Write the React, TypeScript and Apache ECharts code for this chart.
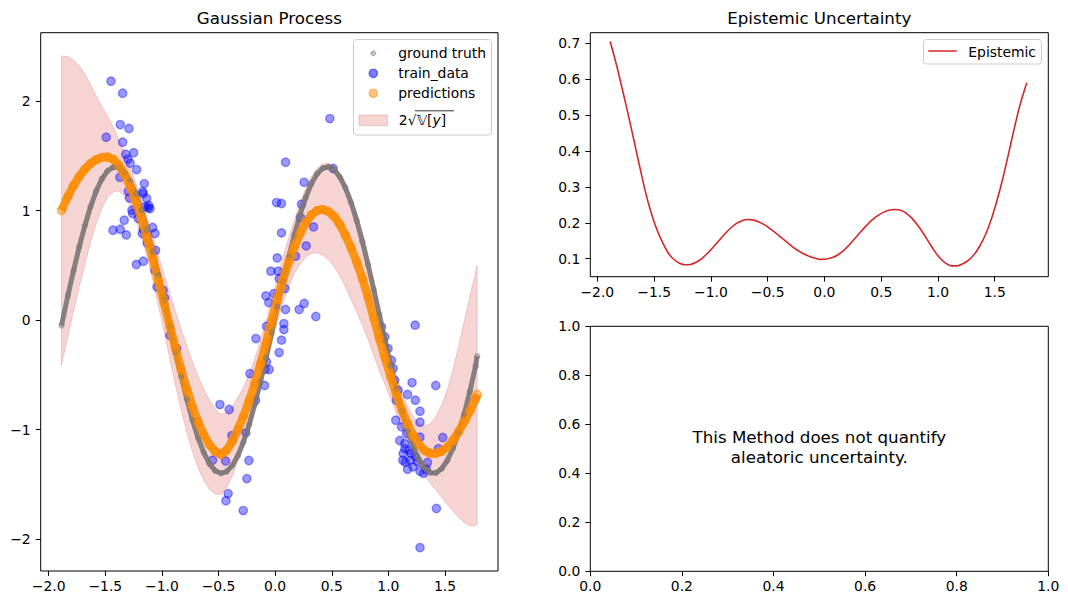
import React, { useEffect, useRef } from "react";
import * as echarts from "echarts";

const FONT = "DejaVu Sans";

// shared x grid of the model evaluation
const xs = [-1.887, -1.83, -1.78, -1.73, -1.68, -1.63, -1.58, -1.53, -1.48, -1.43, -1.38, -1.33, -1.28, -1.23, -1.18, -1.13, -1.08, -1.03, -0.98, -0.93, -0.88, -0.83, -0.78, -0.73, -0.68, -0.63, -0.58, -0.53, -0.48, -0.43, -0.38, -0.33, -0.28, -0.23, -0.18, -0.13, -0.08, -0.03, 0.02, 0.07, 0.12, 0.17, 0.22, 0.27, 0.32, 0.37, 0.42, 0.47, 0.52, 0.57, 0.62, 0.67, 0.72, 0.77, 0.82, 0.87, 0.92, 0.97, 1.02, 1.07, 1.12, 1.17, 1.22, 1.27, 1.32, 1.37, 1.42, 1.47, 1.52, 1.57, 1.62, 1.67, 1.72, 1.77, 1.784];

const groundTruth = [-0.05, 0.226, 0.453, 0.668, 0.864, 1.036, 1.179, 1.288, 1.362, 1.397, 1.393, 1.35, 1.269, 1.152, 1.002, 0.824, 0.625, 0.409, 0.177, -0.057, -0.29, -0.515, -0.725, -0.915, -1.079, -1.212, -1.313, -1.376, -1.4, -1.385, -1.33, -1.24, -1.114, -0.956, -0.772, -0.566, -0.344, -0.113, 0.122, 0.353, 0.575, 0.78, 0.963, 1.119, 1.244, 1.334, 1.386, 1.399, 1.374, 1.309, 1.208, 1.073, 0.907, 0.716, 0.505, 0.281, 0.047, -0.187, -0.418, -0.633, -0.832, -1.009, -1.157, -1.273, -1.353, -1.394, -1.396, -1.358, -1.283, -1.173, -1.03, -0.857, -0.65, -0.42, -0.33];

const predictions = [1.0, 1.131, 1.228, 1.311, 1.378, 1.429, 1.465, 1.485, 1.489, 1.467, 1.414, 1.331, 1.22, 1.084, 0.927, 0.75, 0.559, 0.357, 0.151, -0.056, -0.259, -0.453, -0.632, -0.793, -0.934, -1.049, -1.139, -1.199, -1.228, -1.19, -1.11, -1.0, -0.88, -0.74, -0.58, -0.4, -0.21, -0.01, 0.19, 0.37, 0.53, 0.67, 0.79, 0.89, 0.96, 1.0, 1.01, 0.992, 0.947, 0.874, 0.775, 0.66, 0.53, 0.38, 0.21, 0.02, -0.168, -0.345, -0.518, -0.678, -0.824, -0.951, -1.055, -1.137, -1.192, -1.218, -1.217, -1.198, -1.161, -1.1, -1.02, -0.93, -0.83, -0.72, -0.68];

const epistemic = [0.705, 0.638, 0.572, 0.504, 0.433, 0.361, 0.291, 0.232, 0.185, 0.148, 0.118, 0.099, 0.088, 0.083, 0.084, 0.09, 0.1, 0.115, 0.132, 0.15, 0.168, 0.184, 0.197, 0.205, 0.209, 0.208, 0.203, 0.195, 0.184, 0.172, 0.159, 0.146, 0.133, 0.122, 0.113, 0.106, 0.101, 0.098, 0.099, 0.103, 0.111, 0.123, 0.139, 0.157, 0.175, 0.192, 0.208, 0.22, 0.229, 0.235, 0.237, 0.235, 0.227, 0.213, 0.194, 0.171, 0.146, 0.121, 0.101, 0.087, 0.08, 0.08, 0.086, 0.096, 0.112, 0.136, 0.168, 0.21, 0.262, 0.322, 0.39, 0.46, 0.525, 0.578, 0.59];

const trainX = [-1.45, -1.347, -1.368, -1.291, -1.492, -1.347, -1.32, -1.25, -1.28, -1.223, -1.3, -1.371, -1.156, -1.297, -1.17, -1.288, -1.135, -1.117, -1.15, -1.265, -1.333, -1.209, -1.121, -1.432, -1.368, -1.315, -1.082, -1.062, -1.164, -1.13, -1.226, -1.165, -1.062, -1.044, -0.989, -0.976, -1.165, -1.106, -1.056, -0.929, -0.87, -1.259, -1.174, 0.092, 0.256, 0.012, 0.056, 0.233, 0.483, 0.512, 0.056, 0.339, 0.224, 0.274, 0.018, -0.038, 0.026, 0.035, -0.082, -0.056, 0.086, 0.256, 0.212, 0.092, 0.359, 0.077, 0.077, 0.056, 0.035, -0.17, -0.223, -0.094, -0.091, -0.053, -0.076, -0.173, -0.488, -0.406, -0.382, -0.259, -0.553, -0.438, -0.232, -0.25, -0.415, -0.435, -0.282, 0.18, -0.011, -0.076, 1.236, 1.209, 1.418, 1.169, 1.238, 1.279, 1.279, 1.065, 1.116, 1.16, 1.279, 1.48, 1.442, 1.13, 1.145, 1.183, 1.127, 1.192, 1.169, 1.257, 1.218, 1.279, 1.335, 1.345, 1.424, 1.279, 0.939, 0.968, 0.997, 1.027, 1.042, 1.056, 1.086, 1.071, 1.145, 1.1, 1.2, 1.15, 1.24, 1.31];
const trainY = [2.181, 2.071, 1.785, 1.749, 1.669, 1.624, 1.514, 1.528, 1.432, 1.374, 1.47, 1.304, 1.246, 1.176, 1.173, 1.115, 1.11, 1.048, 1.033, 1.003, 0.911, 0.927, 1.024, 0.82, 0.829, 0.777, 0.845, 0.79, 0.829, 0.704, 0.507, 0.537, 0.455, 0.302, 0.272, 0.202, 1.155, 1.018, 0.637, -0.139, -0.26, 0.973, 0.79, 1.441, 1.258, 1.073, 1.064, 1.058, 1.84, 1.384, 0.796, 0.85, 0.936, 0.677, 0.567, 0.446, 0.446, 0.379, 0.22, 0.16, 0.288, 0.151, 0.096, 0.096, 0.032, -0.032, -0.087, -0.184, -0.297, -0.169, -0.489, -0.598, -0.452, -0.452, -0.383, -0.732, -0.772, -0.817, -1.055, -1.031, -1.28, -1.287, -1.283, -1.448, -1.585, -1.65, -1.74, 0.583, 0.242, -0.057, -0.047, -0.571, -0.598, -0.68, -0.732, -0.833, -0.933, -0.915, -0.976, -1.037, -1.07, -1.073, -1.174, -1.219, -1.174, -1.189, -1.28, -1.28, -1.363, -1.296, -1.341, -1.381, -1.363, -1.301, -1.721, -2.078, -0.063, -0.154, -0.26, -0.367, -0.443, -0.55, -0.641, -0.732, -1.128, -1.1, -1.22, -1.3, -1.25, -1.4];

const xTicks = [-2.0, -1.5, -1.0, -0.5, 0.0, 0.5, 1.0, 1.5];
const gpYTicks = [-2, -1, 0, 1, 2];
const epiYTicks = [0.1, 0.2, 0.3, 0.4, 0.5, 0.6, 0.7];
const unitTicks = [0, 0.2, 0.4, 0.6, 0.8, 1.0];

const titles = ["Gaussian Process", "Epistemic Uncertainty"];
const legendLabels = ["ground truth", "train_data", "predictions"];
const epiLabel = "Epistemic";
const aleatoricNote = "This Method does not quantify\naleatoric uncertainty.";

const minus = (s: string) => s.replace("-", "\u2212");
const fmt1 = (v: number) => minus((Math.abs(v) < 1e-9 ? 0 : v).toFixed(1));
const fmt0 = (v: number) => minus((Math.abs(v) < 1e-9 ? 0 : v).toFixed(0));

function axis(gridIndex: number, min: number, max: number, ticks: number[], fmt: (v: number) => string, isX: boolean) {
  return {
    type: "value",
    gridIndex,
    min,
    max,
    axisLine: { show: false, onZero: false },
    splitLine: { show: false },
    axisTick: {
      show: true,
      inside: false,
      length: 4.9,
      lineStyle: { color: "#000", width: 1 },
      customValues: ticks,
    },
    axisLabel: {
      show: true,
      customValues: ticks,
      formatter: (v: number) => fmt(v),
      color: "#000",
      fontSize: 13.9,
      fontFamily: FONT,
      margin: isX ? 8 : 10,
    },
  };
}

const txt = (text: string, x: number, y: number, size: number, align: string, extra: any = {}) => ({
  type: "text", x, y, z: 21,
  style: { text, fontSize: size, fontFamily: FONT, fill: "#000", align, verticalAlign: "middle", textAlign: align, textVerticalAlign: "middle", ...extra },
});

export default function App() {
  const ref = useRef<HTMLDivElement>(null);
  useEffect(() => {
    if (!ref.current) return;
    const chart = echarts.init(ref.current, null, { renderer: "svg" });
    const bandUpper = predictions.map((p, i) => p + 2 * epistemic[i]);
    const bandLower = predictions.map((p, i) => p - 2 * epistemic[i]);
    const bandRows = xs.map((x, i) => [x, bandLower[i], bandUpper[i]]);

    const gridStyle = { show: true, borderColor: "#000", borderWidth: 1, backgroundColor: "transparent" };

    const option: any = {
      animation: false,
      backgroundColor: "#fff",
      grid: [
        { left: 40.7, top: 32.7, width: 457.3, height: 538.3, ...gridStyle },
        { left: 590.3, top: 32.7, width: 458, height: 244, ...gridStyle },
        { left: 590.3, top: 326.3, width: 458, height: 245, ...gridStyle },
      ],
      xAxis: [
        axis(0, -2.0706, 1.968, xTicks, fmt1, true),
        axis(1, -2.062, 1.972, xTicks, fmt1, true),
        axis(2, 0, 1, unitTicks, fmt1, true),
      ],
      yAxis: [
        axis(0, -2.292, 2.624, gpYTicks, fmt0, false),
        axis(1, 0.0498, 0.7295, epiYTicks, fmt1, false),
        axis(2, 0, 1, unitTicks, fmt1, false),
      ],
      series: [
        {
          name: legendLabels[0],
          type: "line",
          xAxisIndex: 0,
          yAxisIndex: 0,
          data: xs.map((x, i) => [x, groundTruth[i]]),
          symbol: "circle",
          symbolSize: 5.5,
          showSymbol: true,
          showAllSymbol: true,
          lineStyle: { color: "rgba(122,118,118,0.9)", width: 5 },
          itemStyle: { color: "rgba(128,124,124,0.5)", borderColor: "rgba(115,110,110,0.5)", borderWidth: 0.8 },
          silent: true,
        },
        {
          name: legendLabels[1],
          type: "scatter",
          xAxisIndex: 0,
          yAxisIndex: 0,
          data: trainX.map((x, i) => [x, trainY[i]]),
          symbolSize: 8.3,
          itemStyle: { color: "rgba(0,0,255,0.5)", borderColor: "rgba(0,0,255,0.5)", borderWidth: 1.4 },
          silent: true,
        },
        {
          name: legendLabels[2],
          type: "line",
          xAxisIndex: 0,
          yAxisIndex: 0,
          data: xs.map((x, i) => [x, predictions[i]]),
          symbol: "circle",
          symbolSize: 8.3,
          showSymbol: true,
          showAllSymbol: true,
          lineStyle: { color: "rgba(250,140,0,0.88)", width: 8.5 },
          itemStyle: { color: "rgba(255,140,0,0.5)", borderColor: "rgba(255,140,0,0.5)", borderWidth: 1.4 },
          silent: true,
        },
        {
          name: "band",
          type: "custom",
          xAxisIndex: 0,
          yAxisIndex: 0,
          data: bandRows,
          encode: { x: 0, y: [1, 2] },
          silent: true,
          renderItem: (params: any, api: any) => {
            if (params.dataIndex !== 0) return null;
            const pts: number[][] = [];
            for (let i = 0; i < bandRows.length; i++) pts.push(api.coord([bandRows[i][0], bandRows[i][2]]));
            for (let i = bandRows.length - 1; i >= 0; i--) pts.push(api.coord([bandRows[i][0], bandRows[i][1]]));
            return {
              type: "polygon",
              shape: { points: pts },
              style: { fill: "rgba(214,39,40,0.2)", stroke: "rgba(214,39,40,0.2)", lineWidth: 1 },
            };
          },
        },
        {
          name: epiLabel,
          type: "line",
          xAxisIndex: 1,
          yAxisIndex: 1,
          data: xs.map((x, i) => [x, epistemic[i]]),
          symbol: "none",
          smooth: 0.3,
          lineStyle: { color: "#d62728", width: 1.6 },
          silent: true,
        },
        {
          name: "empty",
          type: "scatter",
          xAxisIndex: 2,
          yAxisIndex: 2,
          data: [],
        },
      ],
      graphic: [
        txt(titles[0], 269.3, 18, 16.7, "center"),
        txt(titles[1], 819.3, 18, 16.7, "center"),
        txt(aleatoricNote, 819.3, 447, 16.7, "center", { lineHeight: 20 }),
        // GP legend
        {
          type: "rect", z: 20,
          shape: { x: 353.5, y: 39.5, width: 138, height: 95.5, r: 3 },
          style: { fill: "rgba(255,255,255,0.8)", stroke: "#cccccc", lineWidth: 1 },
        },
        { type: "circle", z: 21, shape: { cx: 373.3, cy: 53.3, r: 2.6 }, style: { fill: "rgba(128,128,128,0.5)", stroke: "rgba(128,128,128,0.5)", lineWidth: 0.8 } },
        { type: "circle", z: 21, shape: { cx: 373.3, cy: 73.3, r: 4.15 }, style: { fill: "rgba(0,0,255,0.5)", stroke: "rgba(0,0,255,0.5)", lineWidth: 1.4 } },
        { type: "circle", z: 21, shape: { cx: 373.3, cy: 93.3, r: 4.15 }, style: { fill: "rgba(255,140,0,0.5)", stroke: "rgba(255,140,0,0.5)", lineWidth: 1.4 } },
        { type: "rect", z: 21, shape: { x: 359, y: 115, width: 28.7, height: 10.7 }, style: { fill: "rgba(214,39,40,0.2)", stroke: "rgba(214,39,40,0.2)", lineWidth: 1 } },
        ...legendLabels.map((t, i) => txt(t, 398.3, 53.3 + 20 * i, 13.9, "left")),
        txt("2", 398.8, 119.5, 13.9, "left"),
        txt("\u221A", 407.8, 119.5, 13.9, "left"),
        txt("{n|\uD835\uDD4D[}{i|y}{n|]}", 417, 119.5, 13.9, "left", {
          rich: {
            n: { fontSize: 13.9, fontFamily: FONT, fill: "#000" },
            i: { fontSize: 13.9, fontFamily: FONT, fontStyle: "italic", fill: "#000" },
          },
        }),
        { type: "line", z: 21, shape: { x1: 415, y1: 110.8, x2: 454, y2: 110.8 }, style: { stroke: "#000", lineWidth: 0.8 } },
        // Epistemic legend
        {
          type: "rect", z: 20,
          shape: { x: 923.5, y: 39.5, width: 118, height: 24.5, r: 3 },
          style: { fill: "rgba(255,255,255,0.8)", stroke: "#cccccc", lineWidth: 1 },
        },
        { type: "line", z: 21, shape: { x1: 928.3, y1: 51, x2: 956.7, y2: 51 }, style: { stroke: "#d62728", lineWidth: 1.5 } },
        txt(epiLabel, 968.3, 51.5, 13.9, "left"),
      ],
    };
    chart.setOption(option);
    return () => chart.dispose();
  }, []);
  return <div ref={ref} style={{ position: "absolute", left: 0, top: 0, width: 1068, height: 605 }} />;
}
